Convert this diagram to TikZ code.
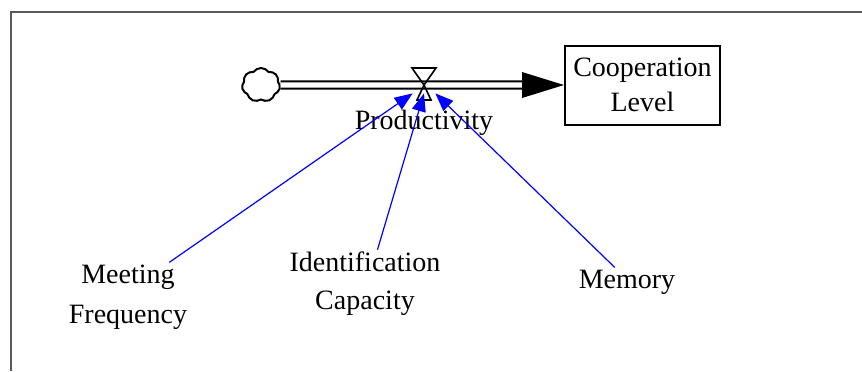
\documentclass[tikz,border=0pt]{standalone}
\usepackage{fontspec}
\setmainfont{Liberation Serif}
\usetikzlibrary{arrows.meta, shapes.symbols, positioning, calc}

\begin{document}
\begin{tikzpicture}[x=0.5pt, y=-0.5pt,
    lbl/.style={align=center, font=\fontsize{14}{19}\selectfont, inner sep=1pt},
    link/.style={blue, line width=0.6pt, -{Triangle[length=9pt, width=7pt]}},
    pipe/.style={double, double distance=2.6pt, line width=1pt}]

  \useasboundingbox (0,0) rectangle (862,371);
  \draw[black!65, line width=1pt] (11,371) -- (11,12) -- (862,12);

  \node[cloud, cloud puffs=7, cloud puff arc=110, draw, line width=1pt, minimum width=19pt, minimum height=17pt, inner sep=0pt] (source) at (261,85) {};
  \node[draw, line width=1pt, minimum width=77.5pt, minimum height=39.5pt, lbl, font=\fontsize{14}{17.5}\selectfont] (coop) at (642.5,85) {Cooperation\\Level};
  \node[inner sep=0pt, minimum width=11pt, minimum height=8pt] (valve) at (424,85) {};
  \node[lbl] (prod) at (424,123) {Productivity};

  \node[lbl, font=\fontsize{14}{20}\selectfont] (meet) at (128,297) {Meeting\\Frequency};
  \node[lbl] (ident) at (365,284) {Identification\\Capacity};
  \node[lbl] (memory) at (627,282) {Memory};

  \draw[pipe, shorten >=21pt] (source) -- (coop);
  \fill ($(coop.west)+(-42,-13)$) -- (coop.west) -- ($(coop.west)+(-42,13)$) -- cycle;
  \draw[line width=0.8pt] (valve.center) -- ++(-12,-17) -- ++(24,0) -- cycle
    (valve.center) -- ++(-7,15) -- ++(14,0) -- cycle;

  \draw[link] (meet.40) -- (valve.south west);
  \draw[link] (ident.70) -- (valve.south);
  \draw[link] (memory.130) -- (valve.south east);

\end{tikzpicture}
\end{document}
